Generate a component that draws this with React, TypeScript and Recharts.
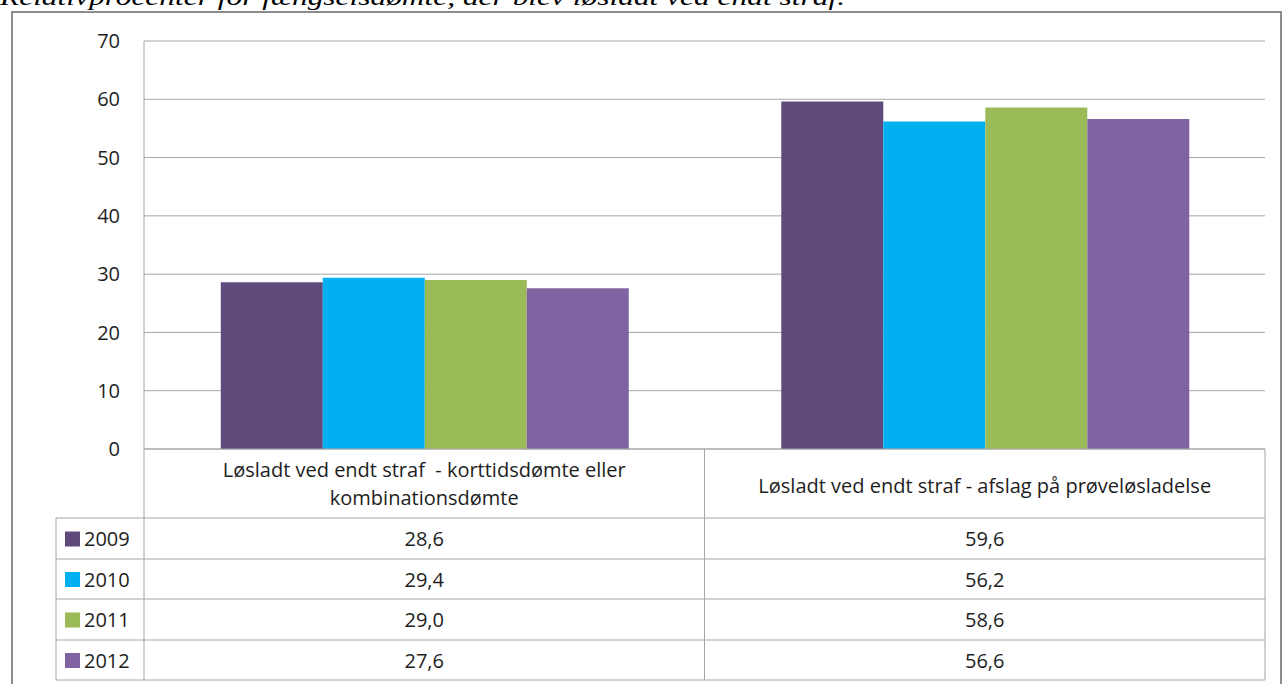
import React from 'react';
import { BarChart, Bar, XAxis, YAxis, CartesianGrid } from 'recharts';

const categories = [
  'Løsladt ved endt straf  - korttidsdømte eller kombinationsdømte',
  'Løsladt ved endt straf - afslag på prøveløsladelse',
];
const years = ['2009', '2010', '2011', '2012'];
const values2009 = [28.6, 59.6];
const values2010 = [29.4, 56.2];
const values2011 = [29.0, 58.6];
const values2012 = [27.6, 56.6];
const seriesValues = [values2009, values2010, values2011, values2012];
const colors = ['#604A7B', '#00B0F0', '#9BBB59', '#8064A2'];
const yTicks = [0, 10, 20, 30, 40, 50, 60, 70];
const title = 'Relativprocenter for fængselsdømte, der blev løsladt ved endt straf.';

const data = categories.map((name, i) => {
  const row: Record<string, string | number> = { name };
  years.forEach((y, k) => {
    row[y] = seriesValues[k][i];
  });
  return row;
});

const FONT = '"Open Sans", "Noto Sans", sans-serif';
const FS = 20;
const TEXT = '#1e1e1e';
const LINE = '#a6a6a6';

// layout (page px)
const W = 1282;
const H = 684;
const plotLeft = 144;
const plotRight = 1265;
const plotTop = 41;
const plotBottom = 449;
const headerBottom = 518;
const rowBottoms = [559, 599, 640, 680];
const legendLeft = 56;

function wrap(text: string, max: number) {
  const words = text.split(' ');
  const lines: string[] = [];
  let cur = '';
  words.forEach((w) => {
    const next = cur === '' ? w : cur + ' ' + w;
    if (next.length > max && cur !== '') {
      lines.push(cur);
      cur = w;
    } else {
      cur = next;
    }
  });
  if (cur) lines.push(cur);
  return lines;
}

const CategoryTick = (props: any) => {
  const { x, payload } = props;
  const lines = wrap(String(payload.value), 50);
  const center = lines.length > 1 ? plotBottom + 34 : plotBottom + 36;
  const lh = 28;
  const start = center - ((lines.length - 1) * lh) / 2;
  return (
    <g>
      {lines.map((l, i) => (
        <text
          key={i}
          x={x}
          y={start + i * lh}
          textAnchor="middle"
          dominantBaseline="central"
          fontFamily={FONT}
          fontSize={FS}
          fill={TEXT}
          style={{ whiteSpace: 'pre' }}
        >
          {l}
        </text>
      ))}
    </g>
  );
};

export default function App() {
  const band = (plotRight - plotLeft) / categories.length;
  const colBounds = categories.map((_, i) => plotLeft + band * i).concat([plotRight]);
  const rowTops = [headerBottom, ...rowBottoms.slice(0, -1)];

  return (
    <div style={{ position: 'absolute', left: 0, top: 0, width: W, height: H, background: '#fff', overflow: 'hidden' }}>
      <BarChart
        width={W}
        height={H}
        data={data}
        margin={{ top: plotTop, right: W - plotRight, bottom: H - plotBottom - 70, left: plotLeft - 60 }}
        barCategoryGap="13.7%"
        barGap={0}
      >
        <CartesianGrid vertical={false} stroke={LINE} strokeWidth={1} />
        <XAxis
          dataKey="name"
          height={70}
          axisLine={{ stroke: LINE }}
          tickLine={false}
          tickSize={0}
          interval={0}
          tick={<CategoryTick />}
        />
        <YAxis
          width={60}
          domain={[0, 70]}
          ticks={yTicks}
          axisLine={{ stroke: LINE }}
          tickLine={false}
          tickSize={0}
          tickMargin={24}
          tick={{ fontFamily: FONT, fontSize: FS, fill: TEXT }}
        />
        {years.map((y, k) => (
          <Bar key={y} dataKey={y} fill={colors[k]} isAnimationActive={false} />
        ))}
      </BarChart>

      <svg width={W} height={H} style={{ position: 'absolute', left: 0, top: 0, pointerEvents: 'none' }}>
        <text
          x={0}
          y={5}
          fontFamily='"Liberation Serif", "DejaVu Serif", serif'
          fontStyle="italic"
          fontSize={24}
          fill="#000"
          textLength={845}
          lengthAdjust="spacingAndGlyphs"
        >
          {title}
        </text>
        <rect x={12} y={12} width={1269} height={700} fill="none" stroke="#8c8c8c" strokeWidth={2} />

        {/* data table */}
        {colBounds.map((cx, i) => (
          <line key={'v' + i} x1={cx} x2={cx} y1={plotBottom} y2={rowBottoms[rowBottoms.length - 1]} stroke={LINE} />
        ))}
        <line x1={legendLeft} x2={legendLeft} y1={headerBottom} y2={rowBottoms[rowBottoms.length - 1]} stroke={LINE} />
        {[headerBottom, ...rowBottoms].map((ry, i) => (
          <line key={'h' + i} x1={legendLeft} x2={plotRight} y1={ry} y2={ry} stroke={LINE} />
        ))}
        {years.map((y, k) => {
          const cy = (rowTops[k] + rowBottoms[k]) / 2;
          return (
            <g key={y}>
              <rect x={65} y={cy - 7} width={15} height={15} fill={colors[k]} />
              <text x={84} y={cy} dominantBaseline="central" fontFamily={FONT} fontSize={FS} fill={TEXT}>
                {y}
              </text>
              {seriesValues[k].map((v, i) => (
                <text
                  key={i}
                  x={plotLeft + band * (i + 0.5)}
                  y={cy}
                  textAnchor="middle"
                  dominantBaseline="central"
                  fontFamily={FONT}
                  fontSize={FS}
                  fill={TEXT}
                >
                  {v.toFixed(1).replace('.', ',')}
                </text>
              ))}
            </g>
          );
        })}
      </svg>
    </div>
  );
}
